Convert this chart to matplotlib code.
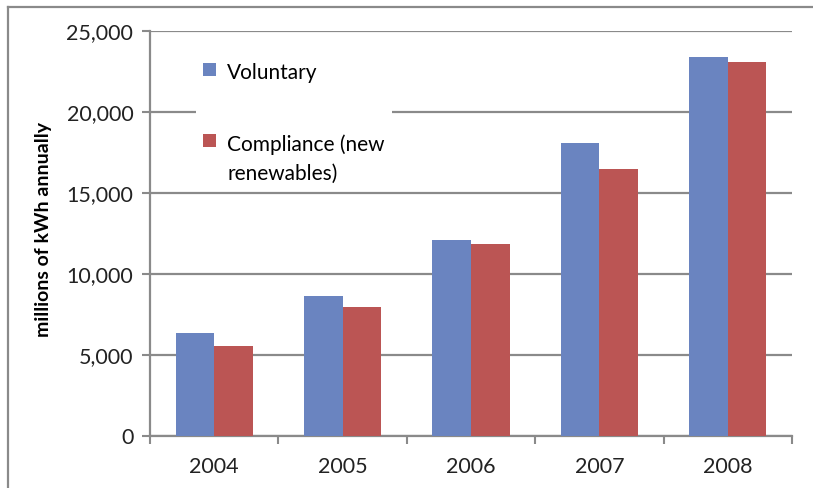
import numpy as np
import matplotlib.pyplot as plt
from matplotlib.lines import Line2D

years = ['2004', '2005', '2006', '2007', '2008']
voluntary = [6380, 8660, 12100, 18070, 23380]
compliance = [5570, 7980, 11850, 16480, 23070]

blue = '#6A84C0'
red = '#BB5554'
grey = '#8A8A8A'

plt.rcParams['font.family'] = ['Lato', 'DejaVu Sans']

fig = plt.figure(figsize=(8.13, 4.88), dpi=100)
ax = fig.add_axes([150 / 813, 1 - 436 / 488, 642 / 813, 405 / 488])

x = np.arange(len(years))
w = 0.3
ax.bar(x - w / 2, voluntary, w, color=blue, label='Voluntary', zorder=3)
ax.bar(x + w / 2, compliance, w, color=red, label='Compliance (new\nrenewables)', zorder=3)

ax.set_xlim(-0.5, len(years) - 0.5)
ax.set_ylim(0, 25000)
ax.set_yticks(np.arange(0, 25001, 5000))
ax.set_yticklabels(['{:,}'.format(v) for v in range(0, 25001, 5000)], fontsize=15.5, color='#222222')
ax.set_xticks(x)
ax.set_xticklabels(years, fontsize=15.5, color='#222222')
ax.set_xticks(np.arange(-0.5, len(years)), minor=True)
ax.tick_params(axis='x', which='major', length=0, pad=15)
ax.tick_params(axis='x', which='minor', length=6, width=1.5, color=grey, direction='out')
ax.tick_params(axis='y', length=6, width=1.5, color=grey, direction='out', pad=6)

ax.grid(axis='y', color=grey, linewidth=1.6, zorder=0)
for s in ['top', 'right']:
    ax.spines[s].set_visible(False)
for s in ['left', 'bottom']:
    ax.spines[s].set_color(grey)
    ax.spines[s].set_linewidth(1.6)

ax.set_ylabel('millions of kWh annually', fontsize=14, fontweight='bold')
ax.yaxis.set_label_coords(-0.152, 0.51)

leg = ax.legend(loc='upper left', bbox_to_anchor=(0.055, 0.965), fontsize=15,
                frameon=True, fancybox=False, edgecolor='none', facecolor='white', framealpha=1,
                handlelength=0.62, handleheight=0.62, handletextpad=0.55, labelspacing=2.45,
                borderpad=0.35)
leg.set_zorder(5)
for t in leg.get_texts():
    t.set_linespacing(1.6)
# put the colour key next to the first line of a two-line label
for col in leg._legend_handle_box.get_children():
    for item in col.get_children():
        item.align = 'top'

# outer chart border
fig.add_artist(Line2D([8 / 813, 8 / 813], [0, 1 - 7 / 488], color=grey, lw=1.6))
fig.add_artist(Line2D([8 / 813, 1], [1 - 7 / 488, 1 - 7 / 488], color=grey, lw=1.6))

fig.savefig('out.png', dpi=100)
